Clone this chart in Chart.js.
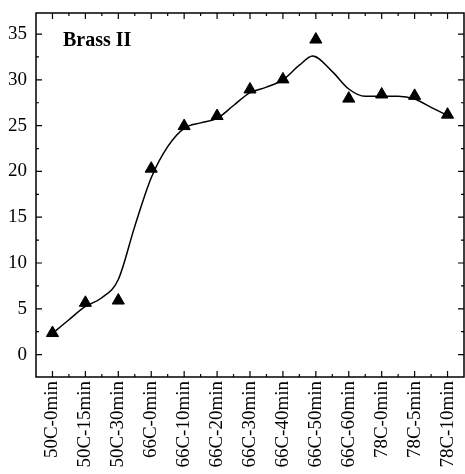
<!DOCTYPE html>
<html>
<head>
<meta charset="utf-8">
<script src="https://cdn.jsdelivr.net/npm/chart.js@4.4.1/dist/chart.umd.min.js"></script>
<style>
  html, body { margin: 0; padding: 0; background: #fff; }
  #wrap { width: 465px; height: 474px; }
</style>
</head>
<body>
<div id="wrap"><canvas id="grafico"></canvas></div>
<script>
// categorias do eixo x
const categorias = ['50C-0min', '50C-15min', '50C-30min', '66C-0min', '66C-10min', '66C-20min',
  '66C-30min', '66C-40min', '66C-50min', '66C-60min', '78C-0min', '78C-5min', '78C-10min'];

// valores medidos (triangulos)
const valores = [2.35, 5.65, 5.9, 20.3, 24.95, 26.05, 28.95, 30.05, 34.4, 27.95, 28.4, 28.25, 26.2];

// curva suavizada (posicao no eixo, valor)
const curvaX = [0, 0.5, 1, 1.5, 2, 2.5, 3, 3.5, 4, 4.5, 5, 5.5, 6, 6.5, 7, 7.5, 7.9, 8.5, 9, 9.5, 10, 10.5, 11, 11.5, 12];
const curvaY = [2.3, 3.8, 5.25, 6.2, 8.2, 14.0, 19.3, 22.7, 24.7, 25.3, 25.8, 27.2, 28.6, 29.2, 30.0, 31.6, 32.6, 30.9, 29.0, 28.2, 28.2, 28.2, 27.9, 27.0, 26.1];

const ticksY = [0, 5, 10, 15, 20, 25, 30, 35];
const titulo = 'Brass II';

const fonte = 'Liberation Serif, Times New Roman, serif';

// moldura e marcas de escala para dentro
const molduraPlugin = {
  id: 'moldura',
  afterDraw(chart) {
    const { ctx, chartArea: a, scales } = chart;
    ctx.save();
    ctx.strokeStyle = '#000';
    ctx.lineWidth = 1.5;
    ctx.strokeRect(a.left, a.top, a.right - a.left, a.bottom - a.top);
    ctx.lineWidth = 1.2;
    ctx.beginPath();
    for (let v = -0.5; v <= 12.5; v += 0.5) {
      const x = scales.x.getPixelForValue(v);
      if (x <= a.left + 1 || x >= a.right - 1) continue;
      const len = Number.isInteger(v) ? 6 : 3;
      ctx.moveTo(x, a.bottom); ctx.lineTo(x, a.bottom - len);
      ctx.moveTo(x, a.top); ctx.lineTo(x, a.top + len);
    }
    for (let v = -2.5; v <= 37.5; v += 2.5) {
      const y = scales.y.getPixelForValue(v);
      if (y <= a.top + 1 || y >= a.bottom - 1) continue;
      const len = (v % 5 === 0) ? 6 : 3;
      ctx.moveTo(a.left, y); ctx.lineTo(a.left + len, y);
      ctx.moveTo(a.right, y); ctx.lineTo(a.right - len, y);
    }
    ctx.stroke();
    // titulo dentro do grafico
    ctx.fillStyle = '#000';
    ctx.font = 'bold 20px ' + fonte;
    ctx.textBaseline = 'middle';
    ctx.textAlign = 'left';
    ctx.fillText(titulo, 63, 41);
    ctx.restore();
  }
};

const ctx = document.getElementById('grafico').getContext('2d');
new Chart(ctx, {
  type: 'scatter',
  data: {
    datasets: [
      {
        data: curvaX.map((x, i) => ({ x, y: curvaY[i] })),
        showLine: true,
        borderColor: '#000',
        borderWidth: 1.5,
        pointRadius: 0,
        cubicInterpolationMode: 'monotone'
      },
      {
        data: valores.map((y, i) => ({ x: i, y })),
        pointStyle: 'triangle',
        pointRadius: 7,
        backgroundColor: '#000',
        borderColor: '#000',
        borderWidth: 1
      }
    ]
  },
  options: {
    responsive: true,
    maintainAspectRatio: false,
    animation: false,
    layout: { autoPadding: false, padding: { top: 13, right: 1, left: 0, bottom: 0 } },
    plugins: { legend: { display: false }, tooltip: { enabled: false } },
    scales: {
      x: {
        type: 'linear',
        min: -0.5,
        max: 12.5,
        afterBuildTicks: s => { s.ticks = categorias.map((c, i) => ({ value: i })); },
        afterFit: s => { s.height = 97; s.paddingLeft = 0; s.paddingRight = 0; },
        grid: { display: false, drawTicks: false },
        border: { display: false },
        ticks: {
          minRotation: 90,
          maxRotation: 90,
          autoSkip: false,
          padding: 4,
          color: '#000',
          font: { family: fonte, size: 19 },
          callback: v => categorias[v]
        }
      },
      y: {
        min: -2.45,
        max: 37.3,
        afterBuildTicks: s => { s.ticks = ticksY.map(v => ({ value: v })); },
        afterFit: s => { s.width = 36; s.paddingTop = 0; s.paddingBottom = 0; },
        grid: { display: false, drawTicks: false },
        border: { display: false },
        ticks: {
          padding: 9,
          color: '#000',
          font: { family: fonte, size: 19 },
          callback: v => v
        }
      }
    }
  },
  plugins: [molduraPlugin]
});
</script>
</body>
</html>
